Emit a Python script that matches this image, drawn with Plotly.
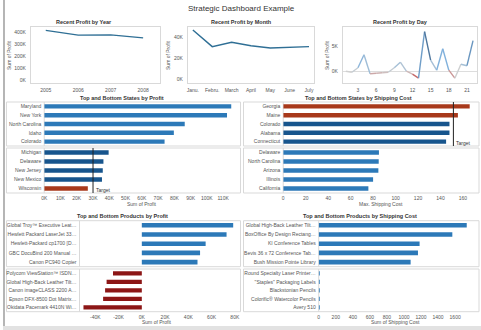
import plotly.graph_objects as go

W, H = 481, 330
FONT = "Liberation Sans, Arial, sans-serif"

# ---------------- data ----------------
years = [2005, 2006, 2007, 2008]
profit_by_year = [418000, 378000, 380000, 355000]

months = ["Janu.", "Febru.", "March", "April", "May", "June", "July"]
profit_by_month = [46700, 30800, 35000, 31700, 29500, 30200, 30800]

days = list(range(1, 23))
profit_by_day = [100, -100, 800, 3400, -400, -300, -200, -100, 800, 1900, 100,
                 -500, -1300, 8000, 2300, 300, 4600, 300, -1300, 1500, 1200, 6200]

top_states_profit = ["Maryland", "New York", "North Carolina", "Idaho", "Colorado"]
top_states_profit_val = [115000, 112400, 86400, 79700, 74000]
bot_states_profit = ["Michigan", "Delaware", "New Jersey", "New Mexico", "Wisconsin"]
bot_states_profit_val = [39600, 36400, 36000, 35500, 26800]
profit_target = 30000

top_states_ship = ["Georgia", "Maine", "Colorado", "Alabama", "Connecticut"]
top_states_ship_val = [166, 155.5, 148, 148, 145]
bot_states_ship = ["Delaware", "North Carolina", "Arizona", "Illinois", "California"]
bot_states_ship_val = [85.2, 85, 84.7, 80, 75.8]
ship_target = 151.5

top_products_profit = ["Global Troy™ Executive Leat…", "Hewlett Packard LaserJet 33…",
                       "Hewlett-Packard cp1700 [D…", "GBC DocuBind 200 Manual …",
                       "Canon PC940 Copier"]
top_products_profit_val = [78600, 72900, 54900, 50100, 47900]
bot_products_profit = ["Polycom ViewStation™ ISDN…", "Global High-Back Leather Tilt…",
                       "Canon imageCLASS 2200 A…", "Epson DFX-8500 Dot Matrix…",
                       "Okidata Pacemark 4410N Wi…"]
bot_products_profit_val = [-24800, -30300, -31600, -33300, -50200]

top_products_ship = ["Global High-Back Leather Tilt…", "BoxOffice By Design Rectang…",
                     "KI Conference Tables", "Bevis 36 x 72 Conference Tab…",
                     "Bush Mission Pointe Library"]
top_products_ship_val = [1736, 1567, 1183, 1164, 1078]
bot_products_ship = ["Round Specialty Laser Printer…", "\"Staples\" Packaging Labels",
                     "Blackstonian Pencils", "Colorific® Watercolor Pencils", "Avery 510"]
bot_products_ship_val = [1.0, 0.9, 0.8, 0.7, 0.5]

# ---------------- helpers ----------------
def xd(a, b):
    return [a / W, b / W]

def yd(top, bottom):
    return [1 - bottom / H, 1 - top / H]

def px(x):
    return x / W

def py(y):
    return 1 - y / H

TICKFONT = dict(family=FONT, size=5, color="#555555")
FRAME = "#d9d9d9"

fig = go.Figure()
layout = dict(width=W, height=H, autosize=False,
              margin=dict(l=0, r=0, t=0, b=0, pad=0),
              paper_bgcolor="white", plot_bgcolor="white",
              showlegend=False, font=dict(family=FONT, color="#333333"))

def kfmt(v):
    return f"{int(round(v/1000))}K"

# ---- top row: line charts ----
LINE = "#2f6f95"
fig.add_trace(go.Scatter(x=years, y=profit_by_year, mode="lines",
                         line=dict(color=LINE, width=1.4), xaxis="x", yaxis="y"))
fig.add_trace(go.Scatter(x=months, y=profit_by_month, mode="lines",
                         line=dict(color=LINE, width=1.4), xaxis="x2", yaxis="y2"))

# day chart: diverging colour by value
stops = [(-1300, (194, 59, 59)), (0, (208, 208, 208)), (2500, (127, 176, 220)), (8000, (27, 58, 92))]

def col(v):
    if v <= stops[0][0]:
        c = stops[0][1]
    elif v >= stops[-1][0]:
        c = stops[-1][1]
    else:
        for (a, ca), (b, cb) in zip(stops[:-1], stops[1:]):
            if a <= v <= b:
                t = (v - a) / (b - a)
                c = tuple(ca[i] + (cb[i] - ca[i]) * t for i in range(3))
                break
    return "rgb(%d,%d,%d)" % tuple(int(round(x)) for x in c)

for i in range(len(days) - 1):
    m = (profit_by_day[i] + profit_by_day[i + 1]) / 2
    fig.add_trace(go.Scatter(x=days[i:i + 2], y=profit_by_day[i:i + 2], mode="lines",
                             line=dict(color=col(m), width=1.4), xaxis="x3", yaxis="y3"))

ROW1 = yd(27, 83)
common_top = dict(showgrid=False, showline=True, mirror=True, linecolor=FRAME, linewidth=1,
                  ticks="", tickfont=TICKFONT, zeroline=False, fixedrange=True)
layout["xaxis"] = dict(common_top, domain=xd(28, 158), anchor="y", range=[2004.54, 2008.52],
                       tickvals=years, ticktext=[str(y) for y in years], ticklabelstandoff=2)
layout["yaxis"] = dict(common_top, domain=ROW1, anchor="x", range=[-20800, 445800],
                       tickvals=[0, 100000, 200000, 300000, 400000],
                       ticktext=[kfmt(v) for v in [0, 100000, 200000, 300000, 400000]],
                       ticklabelstandoff=3)
layout["xaxis2"] = dict(common_top, domain=xd(186, 313), anchor="y2", type="category",
                        categoryarray=months, range=[-0.26, 6.26], ticklabelstandoff=2)
layout["yaxis2"] = dict(common_top, domain=ROW1, anchor="x2", range=[-3800, 49500],
                        tickvals=[0, 20000, 40000], ticktext=["0K", "20K", "40K"],
                        ticklabelstandoff=3)
layout["xaxis3"] = dict(common_top, domain=xd(342, 477), anchor="y3", range=[0.51, 22.66],
                        tickvals=[3, 6, 9, 12, 15, 18, 21], ticklabelstandoff=2)
layout["yaxis3"] = dict(common_top, domain=ROW1, anchor="x3", range=[-2260, 8940],
                        tickvals=[0, 5000], ticktext=["0K", "5K"], ticklabelstandoff=3,
                        zeroline=True, zerolinecolor="#dddddd", zerolinewidth=1)

# ---- bar panes ----
common_bar = dict(showgrid=False, showline=False, ticks="", tickfont=TICKFONT,
                  zeroline=False, fixedrange=True)

def add_pane(n, cats, vals, colors, xdom, ydom, xrange, tickvals, ticktext, show_x):
    xa, ya = f"x{n}", f"y{n}"
    fig.add_trace(go.Bar(y=cats, x=vals, orientation="h", marker=dict(color=colors, line=dict(width=0)),
                         width=0.5, xaxis=xa, yaxis=ya))
    layout[f"xaxis{n}"] = dict(common_bar, domain=xdom, anchor=ya, range=xrange,
                               tickvals=tickvals, ticktext=ticktext, showticklabels=show_x,
                               ticklabelstandoff=1)
    layout[f"yaxis{n}"] = dict(common_bar, domain=ydom, anchor=xa, type="category",
                               categoryarray=cats, range=[4.5, -0.5], ticklabelstandoff=2)

BLUE = "#2c79b8"
DBLUE = "#17558d"
RED = "#a8391b"
MAROON = "#8c1616"

# states by profit
pt = list(range(0, 110001, 10000))
add_pane(4, top_states_profit, top_states_profit_val, [BLUE] * 5, xd(41.5, 239), yd(102, 146),
         [0, 120700], pt, [kfmt(v) for v in pt], False)
add_pane(5, bot_states_profit, bot_states_profit_val,
         [RED if v < profit_target else DBLUE for v in bot_states_profit_val],
         xd(41.5, 239), yd(148, 193), [0, 120700], pt, [kfmt(v) for v in pt], True)
# states by shipping cost
st = list(range(0, 161, 20))
add_pane(6, top_states_ship, top_states_ship_val,
         [RED if v > ship_target else DBLUE for v in top_states_ship_val],
         xd(282, 479), yd(102, 146), [0, 174.3], st, [str(v) for v in st], False)
add_pane(7, bot_states_ship, bot_states_ship_val, [BLUE] * 5,
         xd(282, 479), yd(148, 193), [0, 174.3], st, [str(v) for v in st], True)
# products by profit
ppt = list(range(-40000, 80001, 20000))
add_pane(8, top_products_profit, top_products_profit_val, [BLUE] * 5, xd(77, 239), yd(220.7, 266.7),
         [-53600, 84900], ppt, [kfmt(v) for v in ppt], False)
add_pane(9, bot_products_profit, bot_products_profit_val, [MAROON] * 5, xd(77, 239), yd(269, 311.7),
         [-53600, 84900], ppt, [kfmt(v) for v in ppt], True)
# products by shipping cost
sst = list(range(0, 1601, 200))
add_pane(10, top_products_ship, top_products_ship_val, [BLUE] * 5, xd(317.7, 479), yd(220.7, 266.7),
         [0, 1880], sst, [str(v) for v in sst], False)
add_pane(11, bot_products_ship, bot_products_ship_val, [BLUE] * 5, xd(317.7, 479), yd(269, 311.7),
         [0, 1880], sst, [str(v) for v in sst], True)

# ---- shapes ----
shapes = []
shapes.append(dict(type="rect", xref="paper", yref="paper", x0=0, x1=px(2), y0=0, y1=1,
                   fillcolor="#b5b5b5", line=dict(width=0), layer="above"))
shapes.append(dict(type="rect", xref="paper", yref="paper", x0=0, x1=1, y0=py(330), y1=py(326),
                   fillcolor="#e2e2e2", line=dict(width=0), layer="above"))
for (xa, xb) in [(3.5, 239), (242, 479)]:
    for (ta, tb) in [(102, 146), (148, 193), (220.7, 266.7), (269, 311.7)]:
        shapes.append(dict(type="rect", xref="paper", yref="paper", x0=px(xa), x1=px(xb),
                           y0=py(tb), y1=py(ta), line=dict(color=FRAME, width=1), layer="below"))
for (xl, ta, tb) in [(41.5, 102, 146), (41.5, 148, 193), (282, 102, 146), (282, 148, 193),
                     (77, 220.7, 266.7), (77, 269, 311.7), (317.7, 220.7, 266.7), (317.7, 269, 311.7)]:
    shapes.append(dict(type="line", xref="paper", yref="paper", x0=px(xl), x1=px(xl),
                       y0=py(tb), y1=py(ta), line=dict(color=FRAME, width=1), layer="below"))
# target lines
shapes.append(dict(type="line", xref="x5", yref="y5 domain", x0=profit_target, x1=profit_target,
                   y0=0, y1=1, line=dict(color="#222222", width=1)))
shapes.append(dict(type="line", xref="x6", yref="y6 domain", x0=ship_target, x1=ship_target,
                   y0=0, y1=1, line=dict(color="#222222", width=1)))
layout["shapes"] = shapes

# ---- annotations ----
anns = []

def ann(text, x, y, size=5, bold=False, xanchor="center", angle=0, color="#333333", xref="paper"):
    anns.append(dict(text=f"<b>{text}</b>" if bold else text, x=x if xref != "paper" else px(x),
                     y=py(y), xref=xref, yref="paper", xanchor=xanchor, yanchor="middle",
                     showarrow=False, textangle=angle,
                     font=dict(family=FONT, size=size, color=color)))

ann("Strategic Dashboard Example", 240, 8.5, size=8, color="#333333")
ann("Recent Profit by Year", 82, 22.5, size=5.5, bold=True)
ann("Recent Profit by Month", 240, 22.5, size=5.5, bold=True)
ann("Recent Profit by Day", 400, 22.5, size=5.5, bold=True)
ann("Top and Bottom States by Profit", 120, 98, size=5.5, bold=True)
ann("Top and Bottom States by Shipping Cost", 358, 98, size=5.5, bold=True)
ann("Top and Bottom Products by Profit", 120, 215.7, size=5.5, bold=True)
ann("Top and Bottom Products by Shipping Cost", 359, 215.7, size=5.5, bold=True)
ann("Sum of Profit", 6, 55, size=5, angle=-90, color="#555555")
ann("Sum of Profit", 166, 55, size=5, angle=-90, color="#555555")
ann("Sum of Profit", 326, 55, size=5, angle=-90, color="#555555")
ann("Sum of Profit", 140, 204, size=5, color="#555555")
ann("Max. Shipping Cost", 380, 204, size=5, color="#555555")
ann("Sum of Profit", 155, 321.5, size=5, color="#555555")
ann("Sum of Shipping Cost", 395, 321.5, size=5, color="#555555")
anns.append(dict(text="Target", x=profit_target, y=py(190), xref="x5", yref="paper",
                 xanchor="left", yanchor="middle", xshift=1, showarrow=False,
                 font=dict(family=FONT, size=5, color="#333333")))
anns.append(dict(text="Target", x=ship_target, y=py(143), xref="x6", yref="paper",
                 xanchor="left", yanchor="middle", xshift=1, showarrow=False,
                 font=dict(family=FONT, size=5, color="#333333")))
layout["annotations"] = anns

fig.update_layout(**layout)
fig.write_html("out.html", config={"displayModeBar": False})
